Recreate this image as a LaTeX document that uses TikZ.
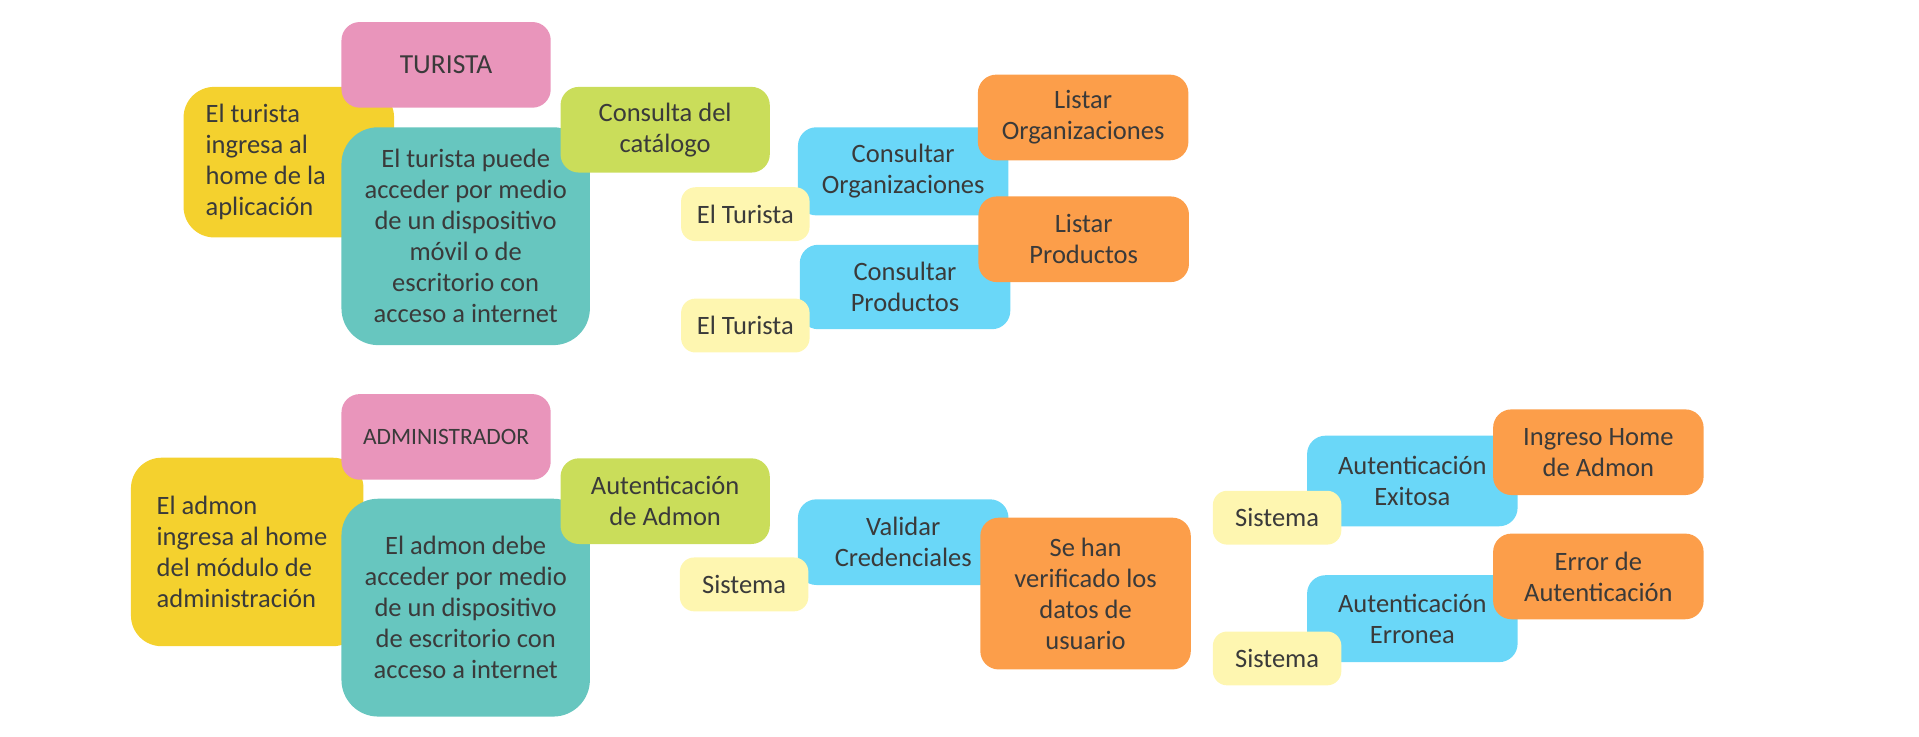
\documentclass[tikz,border=0pt]{standalone}
\usepackage{fontspec}
\setmainfont{Carlito}
\usetikzlibrary{positioning}
\definecolor{ink}{HTML}{3A3A3A}
\definecolor{rosa}{HTML}{E995BB}
\definecolor{oro}{HTML}{F4D12E}
\definecolor{turq}{HTML}{67C6BF}
\definecolor{lima}{HTML}{CADD5A}
\definecolor{cielo}{HTML}{6AD7F8}
\definecolor{naranja}{HTML}{FC9E4A}
\definecolor{crema}{HTML}{FEF6B0}

\begin{document}
\begin{tikzpicture}[
  x=0.6pt, y=-0.6pt,
  font=\fontsize{13}{15.2}\selectfont,
  card/.style={text=ink, align=center, inner sep=0pt,
               rounded corners=9pt},
  actor/.style={card, fill=rosa, minimum width=102.6pt, minimum height=42pt},
  entry/.style={card, fill=oro, align=flush left, rounded corners=15pt},
  access/.style={card, fill=turq, minimum width=121.8pt,
                 minimum height=106.8pt, rounded corners=18pt},
  goal/.style={card, fill=lima, minimum width=102.6pt, minimum height=42pt},
  action/.style={card, fill=cielo, minimum width=103.2pt, minimum height=42pt},
  result/.style={card, fill=naranja, minimum width=103.2pt, minimum height=42pt},
  who/.style={card, fill=crema, minimum width=63pt, minimum height=26.4pt,
              rounded corners=7pt},
]
\useasboundingbox (0,0) rectangle (1568,602);

% turista
\node[entry, minimum width=103.2pt, minimum height=73.8pt, text width=81.6pt]
  (turEntry) at (236,132.5) {El turista\\ ingresa al\\ home de la\\ aplicación};
\node[actor, font=\fontsize{13.5}{15.2}\selectfont] (turista) at (364.5,53) {TURISTA};
\node[access] (turAccess) at (380.5,193)
  {El turista puede\\ acceder por medio\\ de un dispositivo\\ móvil o de\\
   escritorio con\\ acceso a internet};
\node[goal] (catalogo) at (543.5,106) {Consulta del\\ catálogo};

\node[action, minimum height=43.2pt] (consOrg) at (738,140) {Consultar\\ Organizaciones};
\node[who] (turQuien1) at (609,175) {El Turista};
\node[action, minimum height=41.4pt] (consProd) at (739.5,234.5) {Consultar\\ Productos};
\node[who] (turQuien2) at (609,266) {El Turista};
\node[result] (listOrg) at (885,96) {Listar\\ Organizaciones};
\node[result] (listProd) at (885.5,195.5) {Listar\\ Productos};

% administrador
\node[entry, minimum width=114pt, minimum height=92.4pt, text width=88.8pt]
  (admEntry) at (202,451) {El admon\\ ingresa al home\\ del módulo de\\ administración};
\node[actor, font=\fontsize{11.5}{13}\selectfont] (admin) at (364.5,357) {ADMINISTRADOR};
\node[access] (admAccess) at (380.5,496.5)
  {El admon debe\\ acceder por medio\\ de un dispositivo\\ de escritorio con\\
   acceso a internet};
\node[goal] (autAdmon) at (543.5,409.5) {Autenticación\\ de Admon};

\node[action] (validar) at (738,443) {Validar\\ Credenciales};
\node[who] (sisQuien1) at (608,477.5) {Sistema};
\node[result, minimum height=74.4pt] (verificado) at (887,485)
  {Se han\\ verificado los\\ datos de\\ usuario};

\node[action, minimum height=44.4pt] (exitosa) at (1154,393) {Autenticación\\ Exitosa};
\node[who] (sisQuien2) at (1043.5,423) {Sistema};
\node[result] (ingreso) at (1306,369.5) {Ingreso Home\\ de Admon};

\node[action, minimum height=42.6pt] (erronea) at (1154,505.5) {Autenticación\\ Erronea};
\node[result] (error) at (1306,471) {Error de\\ Autenticación};
\node[who] (sisQuien3) at (1043.5,538) {Sistema};
\end{tikzpicture}
\end{document}
